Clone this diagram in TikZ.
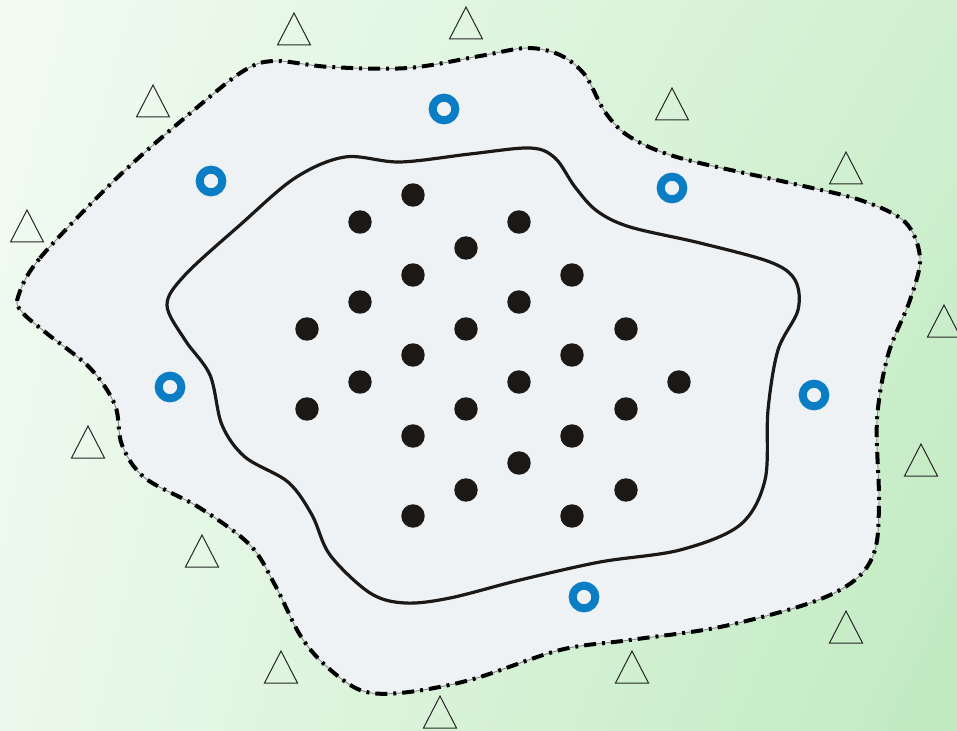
\documentclass[tikz,border=0pt]{standalone}
\usetikzlibrary{calc,shadings}
\definecolor{bgA}{RGB}{242,251,242}
\definecolor{bgB}{RGB}{208,240,208}
\definecolor{bgC}{RGB}{236,249,236}
\definecolor{bgD}{RGB}{192,234,192}
\definecolor{zone}{RGB}{239,242,245}
\definecolor{ringblue}{RGB}{10,125,196}
\definecolor{dotblack}{RGB}{28,24,22}
\tikzset{
  dotnode/.style={circle,fill=dotblack,draw=none,minimum size=17.6pt,inner sep=0pt},
  ringnode/.style={circle,draw=ringblue,line width=6pt,minimum size=17pt,inner sep=0pt},
  tri/.style={draw=black!85,line width=0.75pt,line join=miter},
  outerzone/.style={fill=zone,draw=black!45,line width=0.7pt,
    postaction={draw=black,line width=3pt,dash pattern=on 9pt off 4.5pt on 2.2pt off 4.5pt}},
  innerzone/.style={draw=dotblack,line width=2.4pt}
}
\begin{document}
\begin{tikzpicture}[x=0.75pt,y=-0.75pt]
\useasboundingbox (0,0) rectangle (957,731);
\shade[upper left=bgA,upper right=bgB,lower left=bgC,lower right=bgD] (0,0) rectangle (957,731);
% outer zone
\path[outerzone] plot[smooth cycle,tension=0.55] coordinates {
 (18,297) (40,258) (120,175) (200,105) (245,70) (275,61) (330,67) (408,68)
 (480,56) (527,48) (560,55) (585,75) (605,112) (630,137) (680,158) (790,183)
 (860,200) (905,222) (920,258) (910,300) (888,355) (877,420) (879,500) (875,550)
 (855,580) (810,603) (720,627) (630,640) (560,650) (470,680) (400,693) (360,690)
 (325,665) (300,635) (275,585) (250,545) (200,508) (145,478) (122,445) (115,405)
 (90,368) (45,332) (22,312)};
% inner zone
\draw[innerzone] plot[smooth cycle,tension=0.55] coordinates {
 (345,157) (400,162) (470,154) (530,148) (555,158) (575,187) (597,211) (630,227)
 (700,243) (770,262) (795,280) (798,310) (778,350) (768,410) (765,480) (740,525)
 (680,550) (600,562) (520,580) (450,598) (405,603) (370,593) (330,555) (312,515)
 (288,482) (245,457) (222,425) (210,375) (185,340) (167,305) (185,275) (240,225)
 (295,178)};
% black dots
\foreach \i/\p in {1/{(413,195)},2/{(360,222)},3/{(519,222)},4/{(466,248)},5/{(413,275)},
 6/{(572,275)},7/{(360,302)},8/{(519,302)},9/{(307,329)},10/{(466,329)},11/{(626,329)},
 12/{(413,355)},13/{(572,355)},14/{(360,382)},15/{(519,382)},16/{(679,382)},17/{(307,409)},
 18/{(466,409)},19/{(626,409)},20/{(413,436)},21/{(572,436)},22/{(519,463)},23/{(466,490)},
 24/{(626,490)},25/{(413,516)},26/{(572,516)}}
  \node[dotnode] (d\i) at \p {};
% blue rings
\foreach \i/\p in {1/{(444,109)},2/{(211,181)},3/{(672,188)},4/{(170,387)},5/{(814,395)},6/{(584,597)}}
  \node[ringnode] (r\i) at \p {};
% triangles (centre coordinates)
\foreach \i/\p in {1/{(294,29)},2/{(466,23)},3/{(153,101)},4/{(672,104)},5/{(27,226)},
 6/{(846,168)},7/{(944,321)},8/{(88,442)},9/{(921,460)},10/{(202,551)},11/{(281,667)},
 12/{(440,712)},13/{(632,667)},14/{(846,627)}}
  \draw[tri] \p node[coordinate] (t\i) {} ++(0,-16) -- ++(16.5,32) -- ++(-33,0) -- cycle;
\end{tikzpicture}
\end{document}
